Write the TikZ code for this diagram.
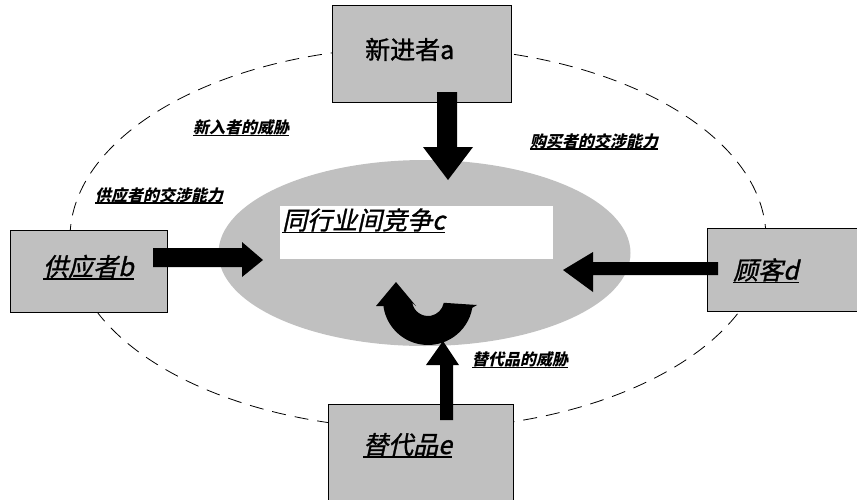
\documentclass[tikz,border=0pt]{standalone}
\usepackage{fontspec}
\newfontfamily\cjk[FakeBold=1.2]{Noto Sans CJK SC}
\newfontfamily\cjksl[FakeSlant=0.22,FakeBold=1.2]{Noto Sans CJK SC}
\newfontfamily\cjkbsl[FakeSlant=0.22]{Noto Sans CJK SC}
\definecolor{boxgray}{HTML}{C0C0C0}
\begin{document}
\begin{tikzpicture}[x=1pt,y=-1pt,
  box/.style={draw=black, line width=0.9pt, fill=boxgray, inner sep=0pt},
  lbl/.style={inner sep=0pt, anchor=base west},
  bigplain/.style={lbl, font={\cjk\fontsize{25pt}{25pt}\selectfont}},
  bigslant/.style={lbl, font={\cjksl\fontsize{25pt}{25pt}\selectfont}},
  smallbold/.style={lbl, font={\cjkbsl\bfseries\fontsize{16pt}{16pt}\selectfont}},
  ulbig/.style={line width=1.3pt},
  ulsmall/.style={line width=1.2pt},
  blockarrow/.style={fill=black}]
\useasboundingbox (0,0) rectangle (857,499);

% outer dashed boundary of the industry
\draw[line width=0.8pt, dash pattern=on 14pt off 9pt]
  (418,238) ellipse [x radius=348pt, y radius=191pt];

% inner competition pool
\fill[boxgray] (424.5,253) ellipse [x radius=206pt, y radius=93pt];
\node[fill=white, inner sep=0pt, minimum width=273pt, minimum height=53pt] (pool) at (416.5,232.5) {};

% the five forces boxes
\node[box, minimum width=179pt, minimum height=97pt] (entrant) at (421.5,53.5) {};
\node[box, minimum width=157pt, minimum height=82pt] (supplier) at (88.5,271) {};
\node[box, minimum width=163pt, minimum height=83pt] (buyer) at (788.5,269.5) {};
\node[box, minimum width=185pt, minimum height=106pt] (substitute) at (420.5,457) {};

% block arrows pointing into the pool
\fill[blockarrow] (437,92) -- (457,92) -- (457,147) -- (473,147) -- (448,180)
  -- (423,147) -- (437,147) -- cycle;
\fill[blockarrow] (153,248) -- (242,248) -- (242,242) -- (263,260) -- (242,277)
  -- (242,267) -- (153,267) -- cycle;
\fill[blockarrow] (718,262) -- (593,262) -- (593,252) -- (563,270) -- (593,292)
  -- (593,275) -- (718,275) -- cycle;
\fill[blockarrow] (440,420) -- (453,420) -- (453,365) -- (459,365) -- (443,341)
  -- (426,365) -- (440,365) -- cycle;

% curved arrow of rivalry inside the pool
\fill[blockarrow] (376,306) -- (396,282) -- (416,306) -- (412.24,302.78)
  arc[start angle=190, end angle=350, radius=16pt]
  -- (477,305) -- (472.3,307.8)
  arc[start angle=350, end angle=190, radius=45pt]
  -- (383.7,306) -- cycle;

% box labels
\node[bigplain] (ta) at (365,59) {新进者a};
\node[bigslant] (tb) at (43,276) {供应者b};
\node[bigslant] (tc) at (282,229.5) {同行业间竞争c};
\node[bigslant] (td) at (733,279.5) {顾客d};
\node[bigslant] (te) at (363,454) {替代品e};
\foreach \n in {tb,tc,td,te}
  \draw[ulbig] ([yshift=-3pt]\n.base west) -- ([yshift=-3pt]\n.base east);

% force labels
\node[smallbold] (la) at (193,133.5) {新入者的威胁};
\node[smallbold] (lb) at (95,201) {供应者的交涉能力};
\node[smallbold] (ld) at (530,147) {购买者的交涉能力};
\node[smallbold] (le) at (472,365.5) {替代品的威胁};
\foreach \n in {la,lb,ld,le}
  \draw[ulsmall] ([yshift=-2pt]\n.base west) -- ([yshift=-2pt]\n.base east);
\end{tikzpicture}
\end{document}
